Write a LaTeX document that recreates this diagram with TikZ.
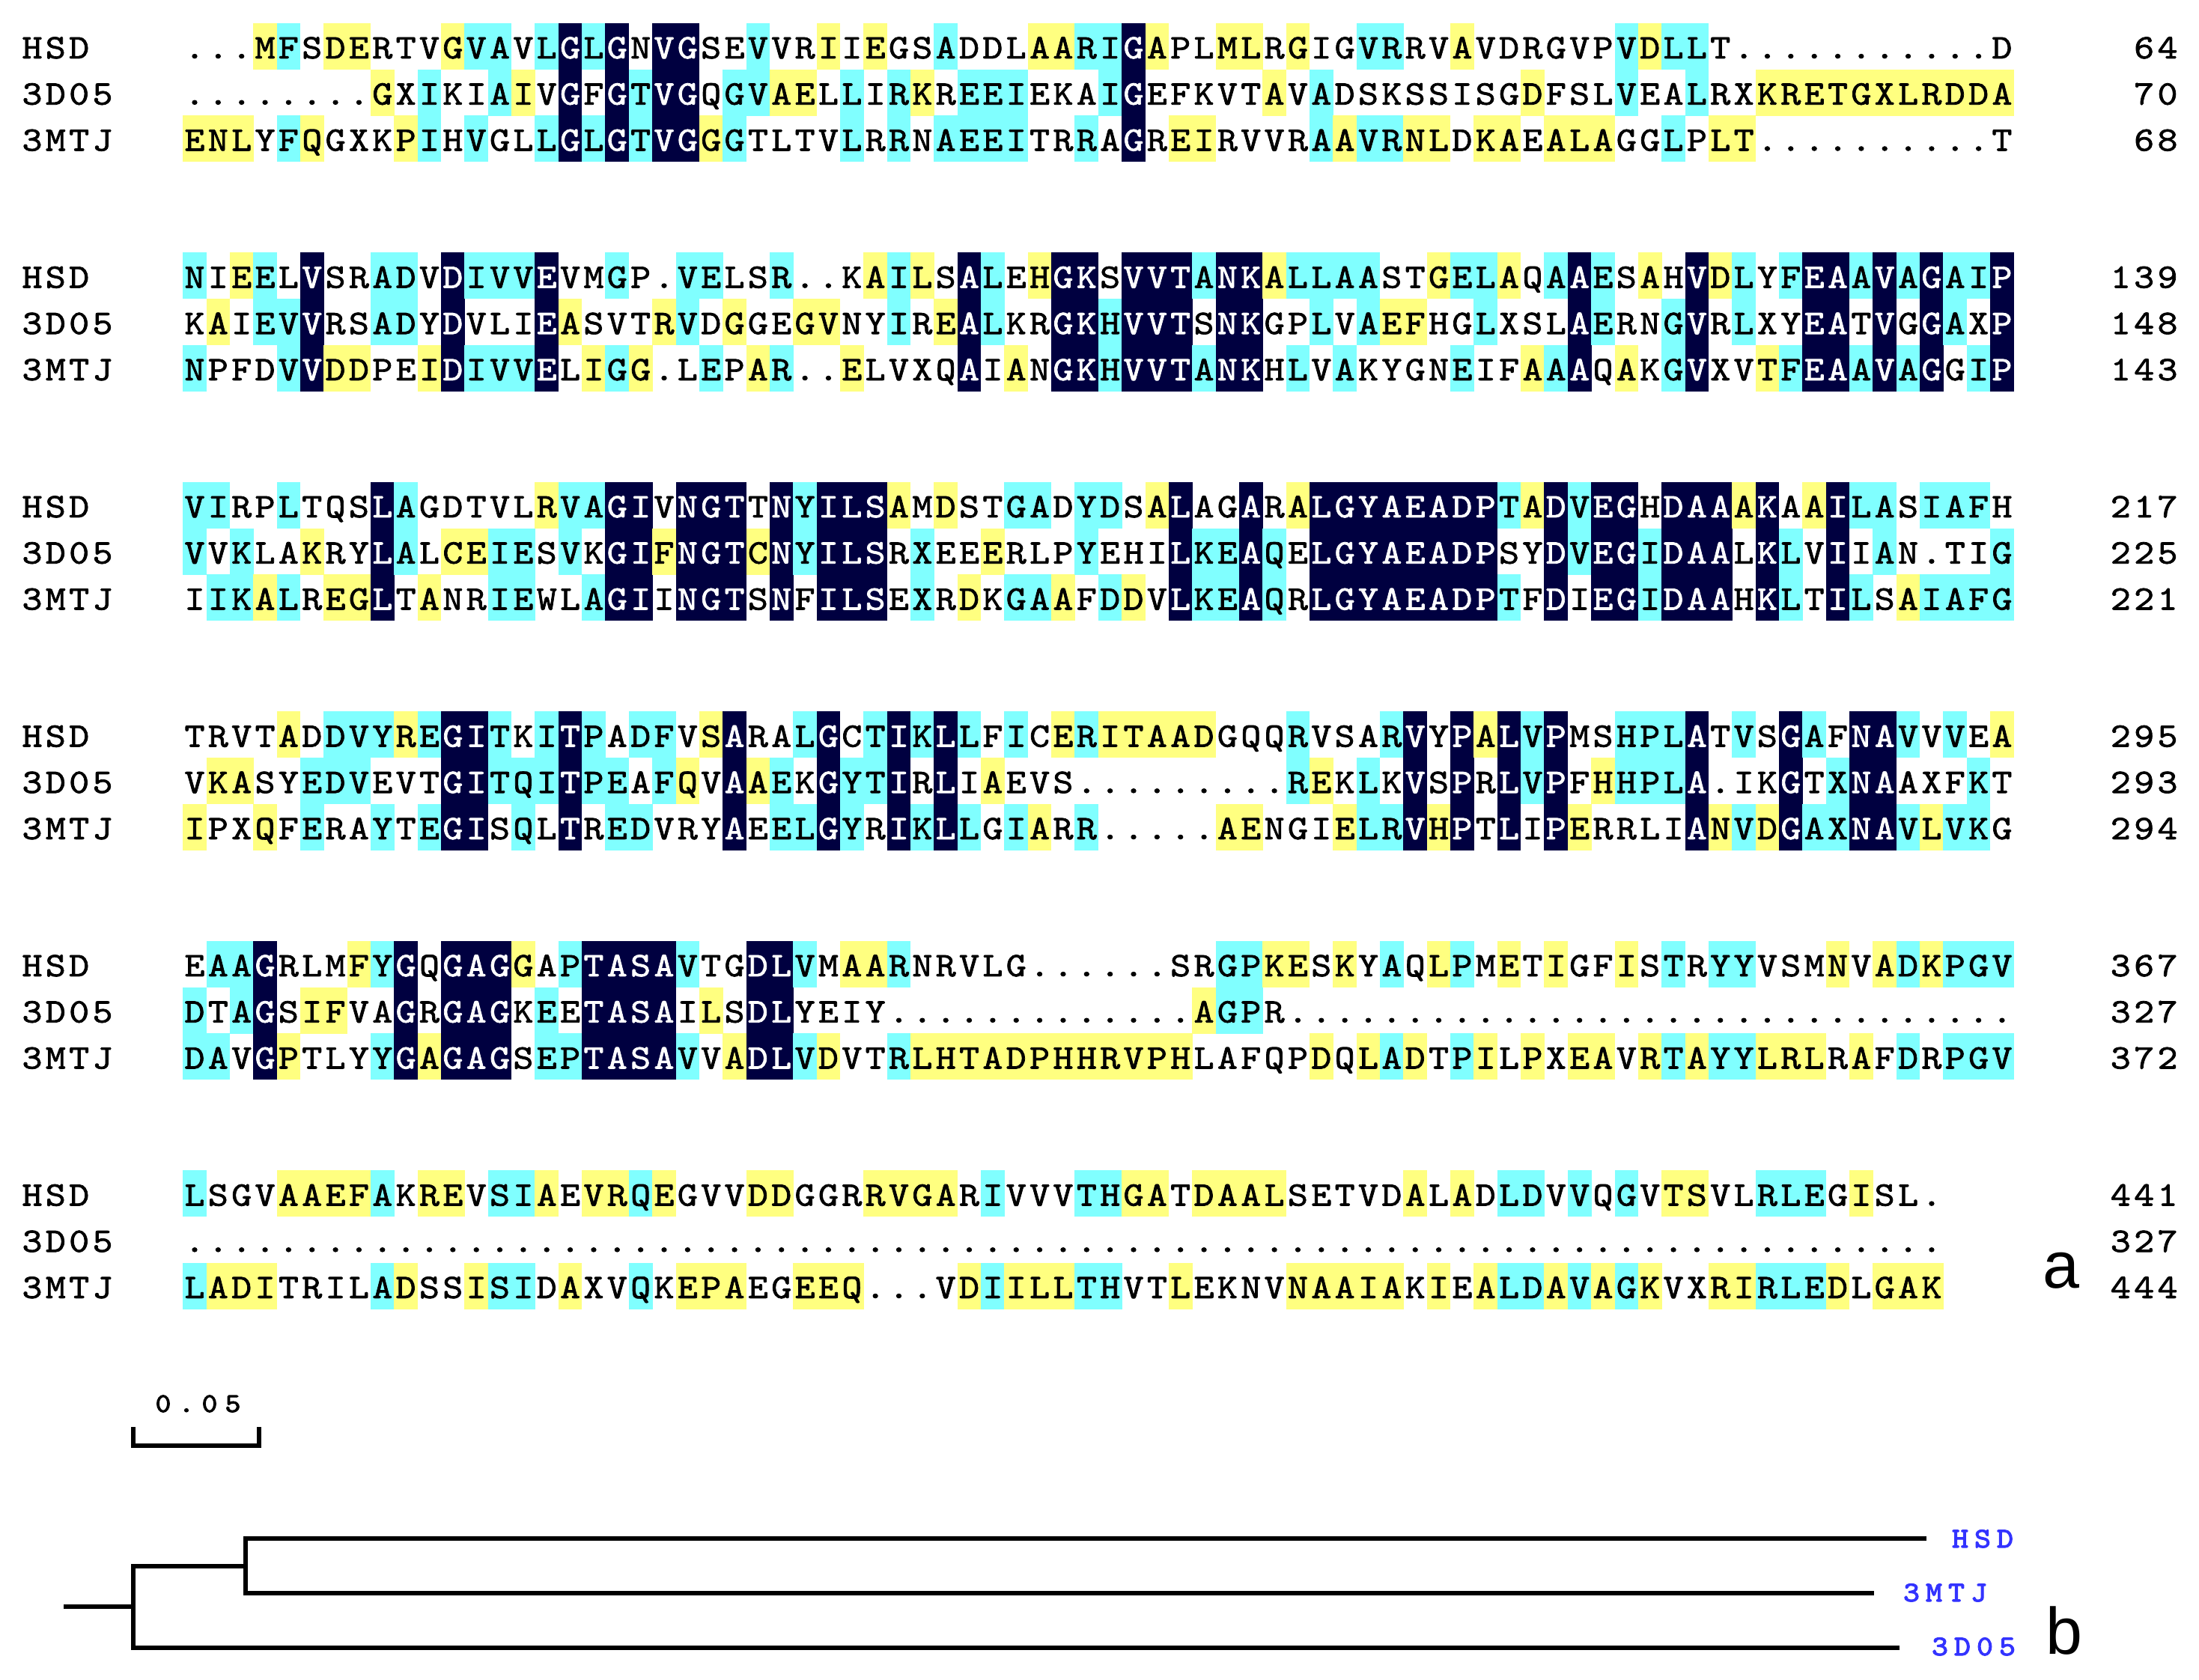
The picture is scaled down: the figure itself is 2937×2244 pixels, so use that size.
\documentclass[tikz,border=0pt]{standalone}
\usepackage{fontspec}
\setmainfont{Liberation Sans}
\newfontfamily\resfam{lmmono10-regular.otf}[FakeBold=1.6,FakeStretch=1.12]
\newfontfamily\tipfam{lmmono10-regular.otf}[FakeBold=3,FakeStretch=1.1]
\definecolor{ylw}{HTML}{FFFF80}
\definecolor{cyn}{HTML}{80FFFF}
\definecolor{nvy}{HTML}{000040}
\definecolor{treeblue}{HTML}{3333FF}
\newcommand\resfont{\resfam\fontsize{11.5}{12}\selectfont}
\tikzset{
  res/.style={inner sep=0pt, anchor=base, font=\resfont},
  branch/.style={line width=1.4pt, black, line cap=rect},
  tiplabel/.style={inner sep=0pt, anchor=base, text=treeblue, font=\tipfam\fontsize{9.5}{10}\selectfont},
  scalelabel/.style={inner sep=0pt, anchor=base, font=\tipfam\fontsize{9}{10}\selectfont},
  panel/.style={inner sep=0pt, font=\fontsize{22}{24}\selectfont},
}
\ExplSyntaxOn
\tl_new:N \l__aln_a_tl
\tl_new:N \l__aln_b_tl
\tl_new:N \l__aln_c_tl
\tl_new:N \l__aln_fill_tl
\tl_new:N \l__aln_tc_tl
\tl_new:N \l__aln_txt_tl
\tl_new:N \l__aln_x_tl
\tl_new:N \l__aln_xl_tl
\tl_new:N \l__aln_xr_tl
\tl_new:N \l__aln_yt_tl
\tl_new:N \l__aln_yb_tl
\tl_new:N \l__aln_yba_tl
\tl_new:N \l__aln_rowa_tl
\tl_new:N \l__aln_rowb_tl
\tl_new:N \l__aln_rowc_tl
\bool_new:N \l__aln_nav_bool
\tl_const:Nn \c__aln_dot_tl {.}
\tl_const:Nn \c__aln_none_tl {none}

\cs_new_protected:Npn \__aln_code:NNNnn #1#2#3#4#5
  {
    \tl_set:Nn \l__aln_tc_tl {black}
    \bool_if:NTF \l__aln_nav_bool
      {
        \tl_set:Nn \l__aln_fill_tl {nvy}
        \tl_set:Nn \l__aln_tc_tl {white}
      }
      {
        \tl_set:Nn \l__aln_fill_tl {none}
        \clist_if_in:nnT {#4} {#5} { \tl_set:Nn \l__aln_fill_tl {ylw} }
        \tl_if_eq:NNF #1 \c__aln_dot_tl
          {
            \tl_if_eq:NNT #1 #2 { \tl_set:Nn \l__aln_fill_tl {cyn} }
            \tl_if_eq:NNT #1 #3 { \tl_set:Nn \l__aln_fill_tl {cyn} }
          }
      }
    \tl_set_eq:NN \l__aln_txt_tl #1
  }

\cs_new_protected:Npn \__aln_cell:nnn #1#2#3
  {
    \tl_set:Nx \l__aln_x_tl { \fp_eval:n { 260 + 31.35 * ( #1 - 1 ) } }
    \tl_set:Nx \l__aln_xl_tl { \fp_eval:n { \l__aln_x_tl - 15.85 } }
    \tl_set:Nx \l__aln_xr_tl { \fp_eval:n { \l__aln_x_tl + 15.85 } }
    \tl_set:Nx \l__aln_yt_tl { \fp_eval:n { #2 - 31 } }
    \tl_set:Nx \l__aln_yb_tl { \fp_eval:n { #2 + 31 } }
    \tl_set:Nx \l__aln_yba_tl { \fp_eval:n { #2 + 16 } }
    \tl_if_eq:NNF \l__aln_fill_tl \c__aln_none_tl
      {
        \fill [ fill = \l__aln_fill_tl ] ( \l__aln_xl_tl , \l__aln_yt_tl ) rectangle ( \l__aln_xr_tl , \l__aln_yb_tl ) ;
      }
    \node [ res , text = \l__aln_tc_tl ] ( #3 ) at ( \l__aln_x_tl , \l__aln_yba_tl ) { \l__aln_txt_tl } ;
  }

\cs_new_protected:Npn \alnblock #1#2#3#4#5#6#7
  {
    \tl_set:Nx \l__aln_rowa_tl { \fp_eval:n { 62 + 306.5 * ( #1 - 1 ) } }
    \tl_set:Nx \l__aln_rowb_tl { \fp_eval:n { \l__aln_rowa_tl + 61.7 } }
    \tl_set:Nx \l__aln_rowc_tl { \fp_eval:n { \l__aln_rowa_tl + 123.4 } }
    \int_step_inline:nn { \str_count:n {#2} }
      {
        \tl_set:Nx \l__aln_a_tl { \str_item:nn {#2} {##1} }
        \tl_set:Nx \l__aln_b_tl { \str_item:nn {#3} {##1} }
        \tl_set:Nx \l__aln_c_tl { \str_item:nn {#4} {##1} }
        \bool_set_false:N \l__aln_nav_bool
        \tl_if_eq:NNT \l__aln_a_tl \l__aln_b_tl
          {
            \tl_if_eq:NNT \l__aln_a_tl \l__aln_c_tl
              {
                \tl_if_eq:NNF \l__aln_a_tl \c__aln_dot_tl
                  { \bool_set_true:N \l__aln_nav_bool }
              }
          }
        \__aln_code:NNNnn \l__aln_a_tl \l__aln_b_tl \l__aln_c_tl {#5} {##1}
        \__aln_cell:nnn {##1} { \l__aln_rowa_tl } { b#1rAc##1 }
        \__aln_code:NNNnn \l__aln_b_tl \l__aln_a_tl \l__aln_c_tl {#6} {##1}
        \__aln_cell:nnn {##1} { \l__aln_rowb_tl } { b#1rBc##1 }
        \__aln_code:NNNnn \l__aln_c_tl \l__aln_a_tl \l__aln_b_tl {#7} {##1}
        \__aln_cell:nnn {##1} { \l__aln_rowc_tl } { b#1rCc##1 }
      }
  }

\cs_new_protected:Npn \alntext #1#2#3#4#5#6
  {
    \int_step_inline:nn { \str_count:n {#4} }
      {
        \tl_set:Nx \l__aln_x_tl { \fp_eval:n { #1 + #2 * ( ##1 - 1 ) } }
        \tl_set:Nx \l__aln_txt_tl { \str_item:nn {#4} {##1} }
        \node [ #5 ] ( #6 x ##1 ) at ( \l__aln_x_tl , #3 ) { \l__aln_txt_tl } ;
      }
  }

\cs_new_protected:Npn \alnlabels #1#2#3#4
  {
    \tl_set:Nx \l__aln_rowa_tl { \fp_eval:n { 62 + 306.5 * ( #1 - 1 ) + 16 } }
    \tl_set:Nx \l__aln_rowb_tl { \fp_eval:n { \l__aln_rowa_tl + 61.7 } }
    \tl_set:Nx \l__aln_rowc_tl { \fp_eval:n { \l__aln_rowa_tl + 123.4 } }
    \alntext {43} {31.35} { \l__aln_rowa_tl } {HSD} {res} { nameb#1A }
    \alntext {43} {31.35} { \l__aln_rowb_tl } {3D05} {res} { nameb#1B }
    \alntext {43} {31.35} { \l__aln_rowc_tl } {3MTJ} {res} { nameb#1C }
    \alntext { \fp_eval:n { 2895 - 31.35 * ( \str_count:n {#2} - 1 ) } } {31.35} { \l__aln_rowa_tl } {#2} {res} { numb#1A }
    \alntext { \fp_eval:n { 2895 - 31.35 * ( \str_count:n {#3} - 1 ) } } {31.35} { \l__aln_rowb_tl } {#3} {res} { numb#1B }
    \alntext { \fp_eval:n { 2895 - 31.35 * ( \str_count:n {#4} - 1 ) } } {31.35} { \l__aln_rowc_tl } {#4} {res} { numb#1C }
  }
\ExplSyntaxOff

\begin{document}
\begin{tikzpicture}[x=0.25pt,y=-0.25pt]
\fill[white] (0,0) rectangle (2937,2244);
\useasboundingbox (0,0) rectangle (2937,2244);

% ---------------- block 1
\alnblock{1}
{...MFSDERTVGVAVLGLGNVGSEVVRIIEGSADDLAARIGAPLMLRGIGVRRVAVDRGVPVDLLT...........D}
{........GXIKIAIVGFGTVGQGVAELLIRKREEIEKAIGEFKVTAVADSKSSISGDFSLVEALRXKRETGXLRDDA}
{ENLYFQGXKPIHVGLLGLGTVGGGTLTVLRRNAEEITRRAGREIRVVRAAVRNLDKAEALAGGLPLT..........T}
{4,7,8,12,28,30,37,38,42,45,46,48,55,63}
{9,15,26,27,32,47,58,68,69,70,71,72,73,74,75,76,77,78}
{1,2,3,6,10,23,43,44,50,53,54,56,57,59,60,61,66,67}
\alnlabels{1}{64}{70}{68}

% ---------------- block 2
\alnblock{2}
{NIEELVSRADVDIVVEVMGP.VELSR..KAILSALEHGKSVVTANKALLAASTGELAQAAESAHVDLYFEAAVAGAIP}
{KAIEVVRSADYDVLIEASVTRVDGGEGVNYIREALKRGKHVVTSNKGPLVAEFHGLXSLAERNGVRLXYEATVGGAXP}
{NPFDVVDDPEIDIVVELIGG.LEPAR..ELVXQAIANGKHVVTANKHLVAKYGNEIFAAAQAKGVXVTFEAAVAGGIP}
{3,30,32,37,47,54,57,63,66}
{2,17,21,24,27,28,33,52,53}
{7,8,11,18,20,25,29,36,58,62,68}
\alnlabels{2}{139}{148}{143}

% ---------------- block 3
\alnblock{3}
{VIRPLTQSLAGDTVLRVAGIVNGTTNYILSAMDSTGADYDSALAGARALGYAEADPTADVEGHDAAAKAAILASIAFH}
{VVKLAKRYLALCEIESVKGIFNGTCNYILSRXEEERLPYEHILKEAQELGYAEADPSYDVEGIDAALKLVIIAN.TIG}
{IIKALREGLTANRIEWLAGIINGTSNFILSEXRDKGAAFDDVLKEAQRLGYAEADPTFDIEGIDAAHKLTILSAIAFG}
{16,31,33,42,48,58,67,70}
{6,12,13,21,25,35}
{4,7,8,11,34,38,41,74}
\alnlabels{3}{217}{225}{221}

% ---------------- block 4
\alnblock{4}
{TRVTADDVYREGITKITPADFVSARALGCTIKLLFICERITAADGQQRVSARVYPALVPMSHPLATVSGAFNAVVVEA}
{VKASYEDVEVTGITQITPEAFQVAAEKGYTIRLIAEVS.........REKLKVSPRLVPFHHPLA.IKGTXNAAXFKT}
{IPXQFERAYTEGISQLTREDVRYAEELGYRIKLLGIARR.....AENGIELRVHPTLIPERRLIANVDGAXNAVLVKG}
{5,10,23,38,40,41,42,43,44,56,78}
{2,3,22,25,35,49,61}
{1,4,37,45,46,50,54,60,66,68,75}
\alnlabels{4}{295}{293}{294}

% ---------------- block 5
\alnblock{5}
{EAAGRLMFYGQGAGGAPTASAVTGDLVMAARNRVLG......SRGPKESKYAQLPMETIGFISTRYYVSMNVADKPGV}
{DTAGSIFVAGRGAGKEETASAILSDLYEIY.............AGPR...............................}
{DAVGPTLYYGAGAGSEPTASAVVADLVDVTRLHTADPHHRVPHLAFQPDQLADTPILPXEAVRTAYYLRLRAFDRPGV}
{8,15,29,30,47,48,50,54,57,59,62,71,73,75}
{6,7,23,44}
{5,11,24,28,32,33,34,35,36,37,38,39,40,41,42,43,49,51,53,56,58,60,61,63,65,68,69,70,72}
\alnlabels{5}{367}{327}{372}

% ---------------- block 6
\alnblock{6}
{LSGVAAEFAKREVSIAEVRQEGVVDDGGRRVGARIVVVTHGATDAALSETVDALADLDVVQGVTSVLRLEGISL.}
{...........................................................................}
{LADITRILADSSISIDAXVQKEPAEGEEQ...VDIILLTHVTLEKNVNAAIAKIEALDAVAGKVXRIRLEDLGAK}
{5,6,7,8,11,12,16,18,19,21,25,26,30,31,32,33,41,42,44,45,46,47,53,55,64,65,72}
{}
{2,3,4,10,13,17,22,23,24,27,28,29,34,36,37,38,43,48,49,50,51,52,54,56,59,61,63,66,67,71,73,74,75}
\alnlabels{6}{441}{327}{444}

% panel labels
\node[panel] (pa) at (2753,1697) {a};
\node[panel] (pb) at (2757,2178) {b};

% scale bar
\coordinate (sbLt) at (178,1909);
\coordinate (sbL) at (178,1931);
\coordinate (sbR) at (346,1931);
\coordinate (sbRt) at (346,1909);
\draw[branch] (sbLt) -- (sbL) -- (sbR) -- (sbRt);
\alntext{218}{31}{1886}{0.05}{scalelabel}{scl}

% tree
\coordinate (root) at (88,2146);
\coordinate (n1) at (178,2146);
\coordinate (n1t) at (178,2092);
\coordinate (n1b) at (178,2201);
\coordinate (n2) at (328,2092);
\coordinate (n2t) at (328,2055);
\coordinate (n2b) at (328,2128);
\coordinate (tHSD) at (2570,2055);
\coordinate (tMTJ) at (2500,2128);
\coordinate (tDOS) at (2534,2201);
\draw[branch] (root) -- (n1);
\draw[branch] (n1t) -- (n1b);
\draw[branch] (n1t) -- (n2);
\draw[branch] (n2t) -- (n2b);
\draw[branch] (n2t) -- (tHSD);
\draw[branch] (n2b) -- (tMTJ);
\draw[branch] (n1b) -- (tDOS);
\alntext{2618}{30}{2067}{HSD}{tiplabel}{tipA}
\alntext{2553}{30}{2139}{3MTJ}{tiplabel}{tipB}
\alntext{2591}{30}{2211}{3D05}{tiplabel}{tipC}
\end{tikzpicture}
\end{document}
